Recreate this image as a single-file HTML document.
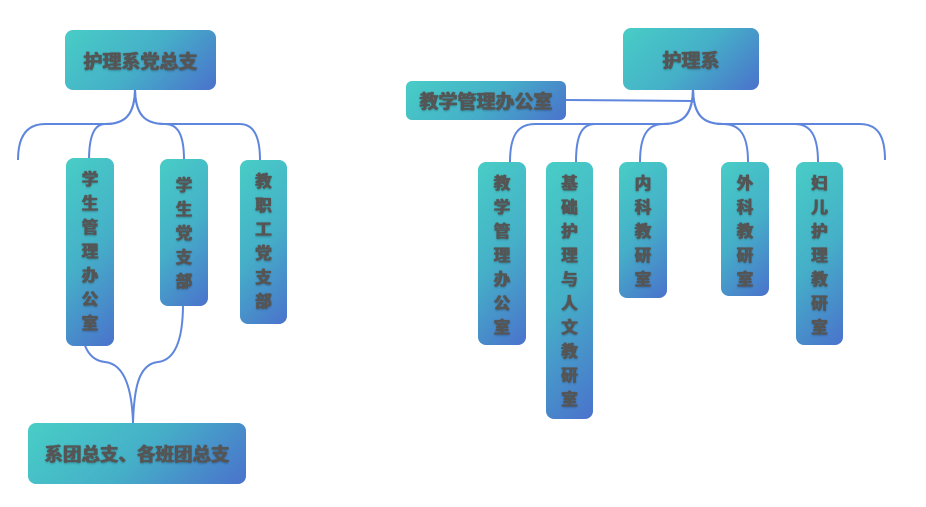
<!DOCTYPE html>
<html><head><meta charset="utf-8"><style>
html,body{margin:0;padding:0;background:#fff;}
body{width:926px;height:507px;position:relative;overflow:hidden;font-family:"Liberation Sans","Noto Sans CJK SC",sans-serif;}
.b{position:absolute;border-radius:8px;background:linear-gradient(135deg,#48cdc6 0%,#45b0c8 50%,#4a72cc 100%);color:#555;font-weight:bold;text-shadow:0 0 1px #555,0.5px 0 0 #555,-0.5px 0 0 #555,0 1px 2px rgba(0,0,0,.3);display:flex;align-items:center;justify-content:center;box-sizing:border-box;}
.v{align-items:flex-start;text-align:center;font-size:16.5px;line-height:24px;padding-top:10px;}
svg{position:absolute;left:0;top:0;}
</style></head><body>
<svg width="926" height="507" fill="none" stroke="#5f86dd" stroke-width="2">
<path d="M135 88 C135 115 125 124 105 124 L45 124 C28 124 18 135 18 160"/>
<path d="M135 88 C135 115 125 124 105 124 C95 124 89 135 89 160"/>
<path d="M135 88 C135 115 145 124 165 124 C178 124 184 135 184 160"/>
<path d="M135 88 C135 115 145 124 165 124 L240 124 C253 124 260 135 260 160"/>
<path d="M79 300 C80 340 85 360 105 362 C125 364 132 390 133 423"/>
<path d="M183 304 C183 340 175 360 158 362 C138 364 134 390 133 423"/>
<path d="M566 100 L693 101"/>
<path d="M693 88 C693 115 683 124 663 124 L535 124 C518 124 510 135 510 162"/>
<path d="M693 88 C693 115 683 124 663 124 L595 124 C582 124 576 135 576 162"/>
<path d="M693 88 C693 115 683 124 663 124 C648 124 640 135 640 162"/>
<path d="M693 88 C693 115 703 124 723 124 C740 124 748 135 748 162"/>
<path d="M693 88 C693 115 703 124 723 124 L795 124 C810 124 818 135 818 162"/>
<path d="M693 88 C693 115 703 124 723 124 L860 124 C877 124 885 135 885 160"/>
</svg>
<div class="b" style="left:65px;top:30px;width:151px;height:60px;font-size:19px;">护理系党总支</div>
<div class="b v" style="left:66px;top:158px;width:48px;height:188px;">学<br>生<br>管<br>理<br>办<br>公<br>室</div>
<div class="b v" style="left:160px;top:159px;width:48px;height:147px;padding-top:15px;">学<br>生<br>党<br>支<br>部</div>
<div class="b v" style="left:240px;top:160px;width:47px;height:164px;">教<br>职<br>工<br>党<br>支<br>部</div>
<div class="b" style="left:28px;top:423px;width:218px;height:61px;font-size:18.5px;">系团总支、各班团总支</div>
<div class="b" style="left:623px;top:28px;width:136px;height:62px;font-size:19px;">护理系</div>
<div class="b" style="left:406px;top:81px;width:160px;height:39px;font-size:19px;border-radius:6px;">教学管理办公室</div>
<div class="b v" style="left:478px;top:162px;width:48px;height:183px;">教<br>学<br>管<br>理<br>办<br>公<br>室</div>
<div class="b v" style="left:546px;top:162px;width:47px;height:257px;">基<br>础<br>护<br>理<br>与<br>人<br>文<br>教<br>研<br>室</div>
<div class="b v" style="left:619px;top:162px;width:48px;height:136px;">内<br>科<br>教<br>研<br>室</div>
<div class="b v" style="left:721px;top:162px;width:48px;height:134px;">外<br>科<br>教<br>研<br>室</div>
<div class="b v" style="left:796px;top:162px;width:47px;height:183px;">妇<br>儿<br>护<br>理<br>教<br>研<br>室</div>
</body></html>
